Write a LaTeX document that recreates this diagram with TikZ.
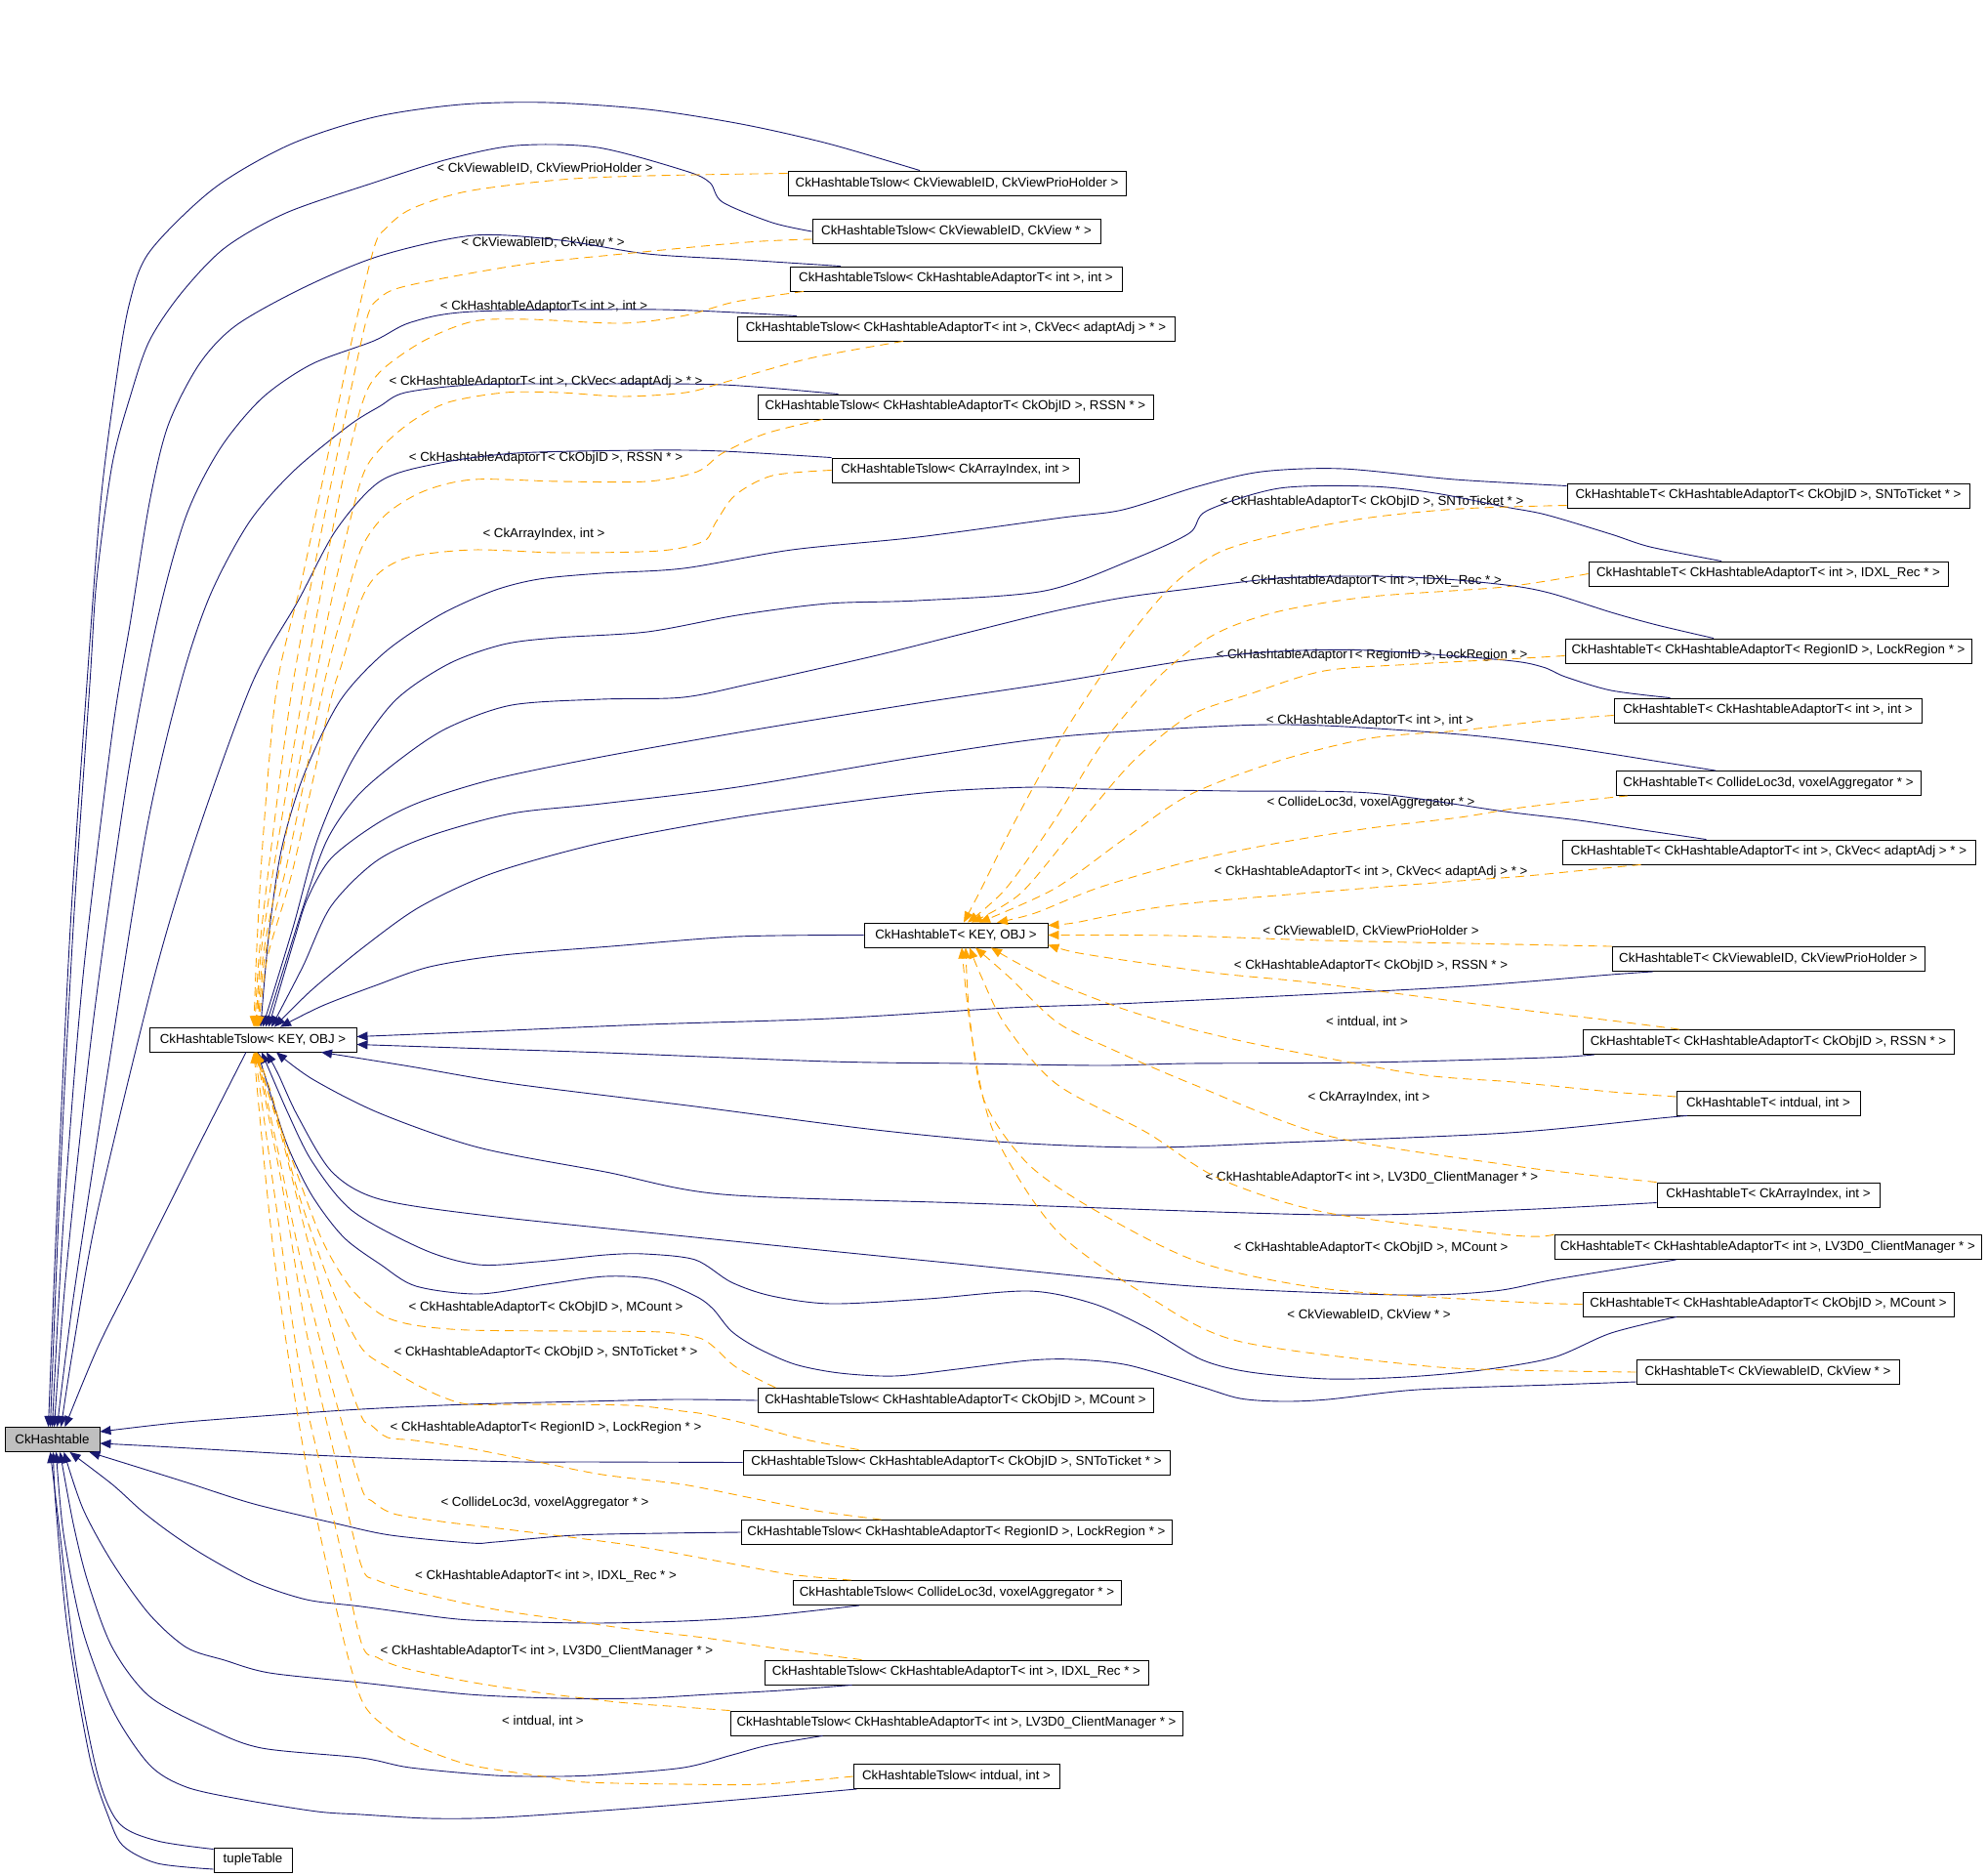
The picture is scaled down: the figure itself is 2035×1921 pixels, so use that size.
\documentclass[tikz,border=0pt]{standalone}
\usepackage{fontspec}
\setmainfont{Liberation Sans}
\usetikzlibrary{arrows.meta}
\definecolor{navyc}{RGB}{25,25,112}
\definecolor{orc}{RGB}{255,165,0}
\definecolor{grayc}{RGB}{191,191,191}
\newcommand\dgfont{\fontsize{13.3}{16}\selectfont}
\tikzset{
  box/.style={draw=black, line width=0.9pt, minimum height=25pt, inner sep=0pt, font=\dgfont},
  lab/.style={inner sep=0pt, font=\dgfont},
  inh/.style={draw=navyc, line width=0.9pt, -{Triangle[length=11pt,width=9pt]}},
  tpl/.style={draw=orc, line width=0.9pt, dash pattern=on 9pt off 6pt, -{Triangle[length=11pt,width=9pt]}},
  sm/.style={smooth, tension=0.5}
}
\begin{document}
\begin{tikzpicture}[x=1pt,y=-1pt]
\useasboundingbox (0,0) rectangle (2035,1921);
% ---- nodes ----
\node[box, fill=grayc, minimum width=97pt] (H) at (53.5,1474) {CkHashtable};
\node[box, minimum width=80pt] (TT) at (259,1904.5) {tupleTable};
\node[box, minimum width=212pt] (TS) at (259,1064.5) {CkHashtableTslow< KEY, OBJ >};
\node[box, minimum width=188pt] (TK) at (979,957.5) {CkHashtableT< KEY, OBJ >};
\node[box, minimum width=346pt] (S1) at (980,187.5) {CkHashtableTslow< CkViewableID, CkViewPrioHolder >};
\node[box, minimum width=295pt] (S2) at (979.5,237) {CkHashtableTslow< CkViewableID, CkView * >};
\node[box, minimum width=340pt] (S3) at (979,285.5) {CkHashtableTslow< CkHashtableAdaptorT< int >, int >};
\node[box, minimum width=448pt] (S4) at (979,336.5) {CkHashtableTslow< CkHashtableAdaptorT< int >, CkVec< adaptAdj > * >};
\node[box, minimum width=405pt] (S5) at (978.5,416.5) {CkHashtableTslow< CkHashtableAdaptorT< CkObjID >, RSSN * >};
\node[box, minimum width=253pt] (S6) at (978.5,481.5) {CkHashtableTslow< CkArrayIndex, int >};
\node[box, minimum width=405pt] (S7) at (978.5,1434) {CkHashtableTslow< CkHashtableAdaptorT< CkObjID >, MCount >};
\node[box, minimum width=437pt] (S8) at (979.5,1497.5) {CkHashtableTslow< CkHashtableAdaptorT< CkObjID >, SNToTicket * >};
\node[box, minimum width=441pt] (S9) at (979.5,1569) {CkHashtableTslow< CkHashtableAdaptorT< RegionID >, LockRegion * >};
\node[box, minimum width=336pt] (S10) at (980,1631) {CkHashtableTslow< CollideLoc3d, voxelAggregator * >};
\node[box, minimum width=393pt] (S11) at (979.5,1712.5) {CkHashtableTslow< CkHashtableAdaptorT< int >, IDXL\_Rec * >};
\node[box, minimum width=463pt] (S12) at (979.5,1764.5) {CkHashtableTslow< CkHashtableAdaptorT< int >, LV3D0\_ClientManager * >};
\node[box, minimum width=211pt] (S13) at (979.5,1819) {CkHashtableTslow< intdual, int >};
\node[box, minimum width=412pt] (T1) at (1811,507.5) {CkHashtableT< CkHashtableAdaptorT< CkObjID >, SNToTicket * >};
\node[box, minimum width=368pt] (T2) at (1811,587.5) {CkHashtableT< CkHashtableAdaptorT< int >, IDXL\_Rec * >};
\node[box, minimum width=416pt] (T3) at (1811,666.5) {CkHashtableT< CkHashtableAdaptorT< RegionID >, LockRegion * >};
\node[box, minimum width=315pt] (T4) at (1810.5,727.5) {CkHashtableT< CkHashtableAdaptorT< int >, int >};
\node[box, minimum width=312pt] (T5) at (1811,802) {CkHashtableT< CollideLoc3d, voxelAggregator * >};
\node[box, minimum width=423pt] (T6) at (1811.5,872.5) {CkHashtableT< CkHashtableAdaptorT< int >, CkVec< adaptAdj > * >};
\node[box, minimum width=320pt] (T7) at (1811,982) {CkHashtableT< CkViewableID, CkViewPrioHolder >};
\node[box, minimum width=380pt] (T8) at (1811,1067) {CkHashtableT< CkHashtableAdaptorT< CkObjID >, RSSN * >};
\node[box, minimum width=188pt] (T9) at (1811,1129.5) {CkHashtableT< intdual, int >};
\node[box, minimum width=228pt] (T10) at (1811,1223.5) {CkHashtableT< CkArrayIndex, int >};
\node[box, minimum width=437pt] (T11) at (1810.5,1277) {CkHashtableT< CkHashtableAdaptorT< int >, LV3D0\_ClientManager * >};
\node[box, minimum width=380pt] (T12) at (1811,1335.5) {CkHashtableT< CkHashtableAdaptorT< CkObjID >, MCount >};
\node[box, minimum width=269pt] (T13) at (1810.5,1405) {CkHashtableT< CkViewableID, CkView * >};
% ---- labels ----
\node[lab] (a1) at (558,173) {< CkViewableID, CkViewPrioHolder >};
\node[lab] (a2) at (556,249) {< CkViewableID, CkView * >};
\node[lab] (a3) at (557,314) {< CkHashtableAdaptorT< int >, int >};
\node[lab] (a4) at (559,391) {< CkHashtableAdaptorT< int >, CkVec< adaptAdj > * >};
\node[lab] (a5) at (559,469) {< CkHashtableAdaptorT< CkObjID >, RSSN * >};
\node[lab] (a6) at (557,547) {< CkArrayIndex, int >};
\node[lab] (a7) at (559,1339) {< CkHashtableAdaptorT< CkObjID >, MCount >};
\node[lab] (a8) at (559,1385) {< CkHashtableAdaptorT< CkObjID >, SNToTicket * >};
\node[lab] (a9) at (559,1462) {< CkHashtableAdaptorT< RegionID >, LockRegion * >};
\node[lab] (a10) at (558,1539) {< CollideLoc3d, voxelAggregator * >};
\node[lab] (a11) at (559,1614) {< CkHashtableAdaptorT< int >, IDXL\_Rec * >};
\node[lab] (a12) at (560,1691) {< CkHashtableAdaptorT< int >, LV3D0\_ClientManager * >};
\node[lab] (a13) at (556,1763) {< intdual, int >};
\node[lab] (b1) at (1405,514) {< CkHashtableAdaptorT< CkObjID >, SNToTicket * >};
\node[lab] (b2) at (1404,595) {< CkHashtableAdaptorT< int >, IDXL\_Rec * >};
\node[lab] (b3) at (1405,671) {< CkHashtableAdaptorT< RegionID >, LockRegion * >};
\node[lab] (b4) at (1403,738) {< CkHashtableAdaptorT< int >, int >};
\node[lab] (b5) at (1404,822) {< CollideLoc3d, voxelAggregator * >};
\node[lab] (b6) at (1404,893) {< CkHashtableAdaptorT< int >, CkVec< adaptAdj > * >};
\node[lab] (b7) at (1404,954) {< CkViewableID, CkViewPrioHolder >};
\node[lab] (b8) at (1404,989) {< CkHashtableAdaptorT< CkObjID >, RSSN * >};
\node[lab] (b9) at (1400,1047) {< intdual, int >};
\node[lab] (b10) at (1402,1124) {< CkArrayIndex, int >};
\node[lab] (b11) at (1405,1206) {< CkHashtableAdaptorT< int >, LV3D0\_ClientManager * >};
\node[lab] (b12) at (1404,1278) {< CkHashtableAdaptorT< CkObjID >, MCount >};
\node[lab] (b13) at (1402,1347) {< CkViewableID, CkView * >};
% ---- solid: Tslow specialisations -> CkHashtable ----
\draw[inh] plot[sm] coordinates {([xshift=-38pt]S1.north) (848,147) (759,127) (663,112) (561,105) (472,107) (383,120) (297,148) (219,193) (153,258) (132,313) (118,396) (103,515) (89,700) (72,950) (60,1200) ([xshift=-4pt]H.north)};
\draw[inh] plot[sm] coordinates {(S2.west) (791,228) (740,207) (727,187) (702,175) (612,151) (529,149) (459,163) (383,187) (293,218) (230,254) (185,301) (153,349) (134,404) (115,475) (99,594) (92,700) (75,950) (62,1200) ([xshift=-2pt]H.north)};
\draw[inh] plot[sm] coordinates {([xshift=-118pt]S3.north) (760,266) (663,260) (574,246) (485,241) (389,262) (312,294) (242,333) (204,373) (172,436) (153,515) (134,634) (115,750) (85,1000) (65,1250) (H.north)};
\draw[inh] plot[sm] coordinates {([xshift=-163pt]S4.north) (676,317) (485,319) (421,330) (383,349) (319,373) (268,408) (225,460) (190,530) (160,640) (130,800) (95,1050) (68,1300) ([xshift=2pt]H.north)};
\draw[inh] plot[sm] coordinates {([xshift=-120pt]S5.north) (740,394) (600,393) (485,394) (415,402) (389,416) (357,436) (300,483) (255,535) (215,610) (185,700) (150,850) (110,1100) (75,1330) ([xshift=5pt]H.north)};
\draw[inh] plot[sm] coordinates {(S6.north west) (740,462) (663,461) (529,464) (446,475) (389,493) (344,543) (306,614) (258,700) (200,860) (158,1000) (100,1240) (75,1380) ([xshift=9pt]H.north)};
\draw[inh] plot[sm] coordinates {([xshift=-7pt]TS.south) (210,1160) (175,1230) (135,1310) (100,1380) ([xshift=13pt]H.north)};
\draw[inh] plot[sm] coordinates {(S7.west) (694,1433) (600,1435) (480,1438) (370,1443) (268,1450) (180,1457) ([yshift=8pt]H.east)};
\draw[inh] plot[sm] coordinates {(S8.west) (600,1497) (535,1497) (421,1494) (320,1490) (230,1485) (160,1481) ([yshift=-4pt]H.east)};
\draw[inh] plot[sm] coordinates {(S9.west) (680,1570) (589,1572) (507,1579) (482,1580) (400,1572) (344,1560) (260,1540) (191,1518) (140,1502) ([xshift=38pt]H.south)};
\draw[inh] plot[sm] coordinates {([xshift=-100pt]S10.south) (780,1655) (699,1660) (606,1662) (507,1660) (459,1657) (370,1645) (314,1638) (260,1620) (210,1593) (175,1570) (145,1547) (115,1520) ([xshift=18pt]H.south)};
\draw[inh] plot[sm] coordinates {([xshift=-107pt]S11.south) (800,1731) (727,1735) (655,1739) (573,1739) (480,1735) (370,1723) (276,1713) (230,1700) (191,1687) (153,1653) (115,1600) (85,1545) ([xshift=12pt]H.south)};
\draw[inh] plot[sm] coordinates {([xshift=-137pt]S12.south) (787,1787) (750,1797) (700,1810) (622,1817) (573,1819) (507,1818) (420,1810) (370,1800) (268,1790) (214,1770) (153,1737) (115,1687) (90,1620) (75,1560) ([xshift=8pt]H.south)};
\draw[inh] plot[sm] coordinates {([xshift=-102pt]S13.south) (754,1843) (644,1852) (513,1861) (440,1862) (370,1858) (325,1855) (250,1843) (191,1830) (153,1807) (115,1750) (84,1667) (65,1570) ([xshift=4pt]H.south)};
\draw[inh] plot[sm] coordinates {([yshift=11pt]TT.west) (161,1885) (122,1867) (100,1817) (77,1700) (61,1567) ([xshift=-2pt]H.south)};
\draw[inh] plot[sm] coordinates {([yshift=-9.5pt]TT.west) (161,1908) (126,1890) (111,1860) (92,1800) (69,1667) (57,1540) ([xshift=1pt]H.south)};
% ---- solid: T specialisations -> Tslow<KEY,OBJ> ----
\draw[inh] plot[sm] coordinates {([yshift=10pt]T1.west) (1490,491) (1375,480) (1292,483) (1227,498) (1150,522) (1088,530) (940,550) (811,563) (700,582) (616,587) (552,593) (505,605) (450,630) (394,668) (348,718) (311,794) (288,871) (275,960) ([xshift=8pt]TS.north)};
\draw[inh] plot[sm] coordinates {([xshift=-48pt]T2.north) (1690,560) (1650,547) (1583,527) (1541,519) (1470,505) (1403,498) (1310,500) (1236,523) (1218,546) (1162,572) (1070,605) (940,615) (848,618) (755,630) (663,647) (570,653) (515,660) (459,680) (404,718) (360,780) (325,860) (300,950) ([xshift=10pt]TS.north)};
\draw[inh] plot[sm] coordinates {([xshift=-56pt]T3.north) (1697,640) (1650,627) (1590,608) (1550,600) (1480,593) (1403,590) (1310,592) (1218,603) (1150,612) (1079,626) (986,649) (894,672) (774,699) (700,714) (616,716) (524,722) (459,745) (413,775) (367,814) (335,860) (310,930) ([xshift=13pt]TS.north)};
\draw[inh] plot[sm] coordinates {([xshift=-100pt]T4.north) (1650,707) (1603,693) (1580,683) (1541,676) (1403,666) (1310,667) (1218,676) (1079,699) (940,720) (774,747) (616,775) (505,798) (431,821) (385,844) (339,879) (315,920) (302,960) ([xshift=16pt]TS.north)};
\draw[inh] plot[sm] coordinates {([xshift=-54pt]T5.north) (1700,780) (1650,772) (1583,762) (1495,752) (1356,743) (1264,743) (1088,754) (940,775) (755,806) (616,823) (524,833) (440,856) (385,882) (339,928) (310,990) ([xshift=19pt]TS.north)};
\draw[inh] plot[sm] coordinates {([xshift=-64pt]T6.north) (1683,850) (1617,840) (1541,831) (1403,812) (1264,810) (1125,808) (1060,806) (968,810) (885,819) (755,837) (616,863) (505,894) (431,928) (376,967) (320,1013) ([xshift=22pt]TS.north)};
\draw[inh] plot[sm] coordinates {(TK.west) (755,959) (626,969) (515,978) (440,990) (385,1009) (330,1030) ([xshift=28pt]TS.north)};
\draw[inh] plot[sm] coordinates {([xshift=-118pt]T7.south) (1650,998) (1500,1010) (1310,1020) (1143,1028) (1033,1032) (850,1043) (663,1049) (500,1056) ([yshift=3pt]TS.east)};
\draw[inh] plot[sm] coordinates {([xshift=-178pt]T8.south) (1583,1083) (1397,1088) (1217,1089) (1128,1091) (990,1089) (850,1087) (620,1078) (500,1074) ([yshift=-5pt]TS.east)};
\draw[inh] plot[sm] coordinates {([xshift=-83pt]T9.south) (1700,1145) (1545,1160) (1313,1170) (1175,1175) (1036,1170) (897,1157) (712,1133) (527,1110) (420,1092) ([xshift=70pt]TS.south)};
\draw[inh] plot[sm] coordinates {([yshift=-8pt]T10.west) (1550,1239) (1360,1244) (990,1232) (740,1223) (620,1200) (490,1175) (389,1140) (320,1105) ([xshift=24pt]TS.south)};
\draw[inh] plot[sm] coordinates {([xshift=-94pt]T11.south) (1593,1310) (1530,1322) (1434,1326) (1221,1317) (960,1292) (712,1267) (500,1245) (389,1228) (340,1200) (305,1143) (285,1100) ([xshift=14pt]TS.south)};
\draw[inh] plot[sm] coordinates {([xshift=-94pt]T12.south) (1650,1365) (1591,1390) (1517,1403) (1440,1410) (1360,1412) (1280,1405) (1230,1392) (1175,1360) (1120,1335) (1054,1322) (950,1330) (851,1335) (790,1327) (749,1313) (712,1290) (660,1284) (620,1285) (550,1292) (490,1295) (435,1280) (361,1240) (320,1190) (295,1140) ([xshift=9pt]TS.south)};
\draw[inh] plot[sm] coordinates {([yshift=-10pt]T13.west) (1591,1418) (1452,1423) (1360,1433) (1313,1435) (1270,1432) (1230,1420) (1156,1398) (1100,1392) (1054,1393) (980,1402) (916,1409) (860,1406) (814,1397) (775,1380) (749,1363) (730,1340) (712,1327) (670,1310) (620,1307) (560,1315) (490,1325) (426,1317) (390,1295) (352,1267) (320,1225) (296,1177) (280,1130) ([xshift=5pt]TS.south)};
% ---- dashed: Tslow instances -> Tslow<KEY,OBJ> ----
\draw[tpl] plot[sm] coordinates {([yshift=10pt]S1.west) (663,180) (574,184) (478,196) (421,214) (395,234) (383,254) (360,350) (335,470) (310,590) (284,700) (270,850) (263,970) ([xshift=1pt]TS.north)};
\draw[tpl] plot[sm] coordinates {([yshift=-8pt]S2.west) (765,248) (638,260) (542,270) (459,284) (408,295) (389,305) (376,325) (355,420) (330,540) (300,700) (280,850) (266,970) ([xshift=2pt]TS.north)};
\draw[tpl] plot[sm] coordinates {([xshift=-156pt]S3.south) (753,309) (702,323) (638,331) (542,327) (485,329) (434,349) (389,381) (370,416) (345,520) (312,700) (285,860) (268,970) ([xshift=3pt]TS.north)};
\draw[tpl] plot[sm] coordinates {([xshift=-54pt]S4.south) (829,367) (740,392) (702,402) (638,406) (574,402) (517,402) (459,412) (421,432) (389,460) (370,491) (345,590) (322,700) (290,870) (270,975) ([xshift=4pt]TS.north)};
\draw[tpl] plot[sm] coordinates {([xshift=-136pt]S5.south) (784,444) (740,464) (714,483) (663,493) (574,493) (485,491) (434,503) (395,527) (370,562) (350,630) (332,700) (295,880) (272,975) ([xshift=5pt]TS.north)};
\draw[tpl] plot[sm] coordinates {(S6.west) (791,487) (753,507) (733,535) (721,554) (676,564) (574,566) (485,563) (421,570) (389,586) (370,614) (350,680) (338,720) (300,890) (274,980) ([xshift=6pt]TS.north)};
\draw[tpl] plot[sm] coordinates {([xshift=-184pt]S7.north) (754,1400) (732,1380) (716,1370) (677,1364) (589,1363) (480,1362) (425,1357) (392,1347) (360,1320) (330,1270) (300,1190) (275,1120) ([xshift=2pt]TS.south)};
\draw[tpl] plot[sm] coordinates {([xshift=-100pt]S8.north) (820,1473) (765,1458) (721,1448) (699,1445) (644,1439) (535,1438) (480,1438) (452,1430) (425,1417) (397,1400) (370,1380) (340,1320) (305,1220) (278,1120) ([xshift=3pt]TS.south)};
\draw[tpl] plot[sm] coordinates {([xshift=-77pt]S9.north) (836,1547) (765,1533) (699,1520) (617,1510) (551,1497) (480,1483) (425,1475) (397,1472) (381,1460) (370,1450) (345,1380) (315,1270) (290,1170) (272,1110) ([xshift=4pt]TS.south)};
\draw[tpl] plot[sm] coordinates {([xshift=-108pt]S10.north) (809,1612) (727,1597) (644,1582) (535,1568) (452,1558) (403,1550) (381,1537) (370,1523) (340,1420) (310,1300) (285,1180) ([xshift=4pt]TS.south)};
\draw[tpl] plot[sm] coordinates {([xshift=-97pt]S11.north) (809,1690) (721,1677) (644,1668) (589,1660) (507,1648) (425,1630) (386,1618) (370,1603) (345,1500) (315,1370) (290,1220) ([xshift=3pt]TS.south)};
\draw[tpl] plot[sm] coordinates {(S12.north west) (699,1748) (633,1743) (551,1733) (480,1722) (414,1708) (386,1697) (370,1682) (345,1570) (310,1420) (285,1250) ([xshift=2pt]TS.south)};
\draw[tpl] plot[sm] coordinates {(S13.west) (781,1827) (699,1827) (600,1825) (556,1819) (480,1807) (425,1787) (397,1770) (370,1740) (345,1650) (310,1480) (280,1280) ([xshift=1pt]TS.south)};
% ---- dashed: T instances -> T<KEY,OBJ> ----
\draw[tpl] plot[sm] coordinates {([yshift=-10pt]T1.west) (1495,521) (1403,530) (1320,545) (1250,565) (1200,600) (1150,660) (1090,750) (1040,840) (1005,910) ([xshift=8pt]TK.north)};
\draw[tpl] plot[sm] coordinates {(T2.west) (1541,601) (1403,611) (1310,626) (1245,649) (1190,690) (1130,760) (1080,840) (1030,910) ([xshift=12pt]TK.north)};
\draw[tpl] plot[sm] coordinates {([yshift=-5pt]T3.west) (1560,674) (1449,680) (1356,687) (1282,710) (1218,733) (1160,780) (1100,850) (1045,915) ([xshift=16pt]TK.north)};
\draw[tpl] plot[sm] coordinates {([yshift=-5pt]T4.west) (1583,738) (1495,748) (1403,756) (1310,779) (1218,814) (1150,860) (1080,910) ([xshift=24pt]TK.north)};
\draw[tpl] plot[sm] coordinates {([xshift=-144pt]T5.south) (1617,820) (1550,828) (1495,837) (1403,848) (1310,863) (1218,882) (1125,909) (1060,935) ([xshift=42pt]TK.north)};
\draw[tpl] plot[sm] coordinates {([xshift=-131pt]T6.south) (1633,890) (1563,897) (1495,902) (1356,913) (1218,925) (1150,935) (1100,945) ([yshift=10pt]TK.east)};
\draw[tpl] plot[sm] coordinates {(T7.north west) (1550,967) (1356,963) (1200,958) (TK.east)};
\draw[tpl] plot[sm] coordinates {([xshift=-91pt]T8.north) (1650,1045) (1550,1033) (1350,1007) (1250,997) (1150,983) (1100,975) ([yshift=-10pt]TK.east)};
\draw[tpl] plot[sm] coordinates {([yshift=6.5pt]T9.west) (1650,1118) (1550,1108) (1452,1100) (1300,1072) (1217,1053) (1150,1033) (1083,1007) (1040,985) ([xshift=36pt]TK.south)};
\draw[tpl] plot[sm] coordinates {(T10.north west) (1617,1202) (1545,1193) (1360,1163) (1221,1110) (1140,1075) (1083,1047) (1033,1000) ([xshift=20pt]TK.south)};
\draw[tpl] plot[sm] coordinates {(T11.north west) (1550,1265) (1360,1242) (1249,1207) (1175,1160) (1082,1110) (1030,1050) (1005,1000) ([xshift=14pt]TK.south)};
\draw[tpl] plot[sm] coordinates {(T12.west) (1550,1333) (1360,1320) (1230,1293) (1128,1243) (1054,1193) (1008,1127) (993,1040) ([xshift=10pt]TK.south)};
\draw[tpl] plot[sm] coordinates {(T13.west) (1550,1403) (1452,1398) (1267,1373) (1175,1327) (1082,1260) (1018,1160) (995,1060) ([xshift=6pt]TK.south)};
\end{tikzpicture}
\end{document}
